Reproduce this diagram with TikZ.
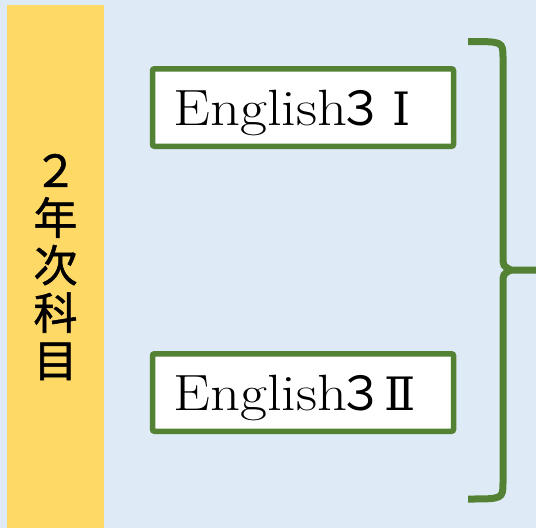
\documentclass[tikz,border=0pt]{standalone}
\usepackage{fontspec}
\newfontfamily\cjk{Noto Sans CJK JP}
\newfontfamily\cjkv{Noto Sans CJK JP}[FakeBold=1.2]
\newfontfamily\engfont{Latin Modern Roman}[FakeStretch=1.15]
\newfontfamily\romfont{DejaVu Serif}
\definecolor{bgblue}{HTML}{DEEAF6}
\definecolor{baryellow}{HTML}{FFD966}
\definecolor{boxgreen}{HTML}{548235}
\begin{document}
\begin{tikzpicture}[x=1pt,y=-1pt,
  coursebox/.style={draw=boxgreen, line width=5.5pt, fill=white, rounded corners=2pt,
    minimum width=301pt, minimum height=77.5pt, inner xsep=20.5pt, inner ysep=0pt,
    text width=259pt, align=left, text height=36pt, text depth=0pt,
    font=\engfont\fontsize{51}{60}\selectfont},
  bracepath/.style={draw=boxgreen, line width=7pt, line cap=butt, line join=miter}]
\useasboundingbox (0,0) rectangle (536,528);
\fill[bgblue] (0,0) rectangle (536,528);
\fill[baryellow] (7.3,5) rectangle (104,528);
\node[font=\cjkv\fontsize{44}{47.5}\selectfont, align=center, inner sep=0pt] (label) at (55.5,267)
  {２\\年\\次\\科\\目};
\node[coursebox] (e1) at (303,107.5) {English{\cjk\fontsize{47}{50}\selectfont\kern-10pt ３\kern-2pt}{\romfont\fontsize{46}{50}\selectfont\kern10pt Ⅰ}};
\node[coursebox] (e2) at (303,392.5) {English{\cjk\fontsize{47}{50}\selectfont\kern-10pt ３\kern-2pt}{\romfont\fontsize{46}{50}\selectfont\kern2pt Ⅱ}};
\coordinate (btop) at (468,41.5);
\coordinate (bbot) at (468,499);
\coordinate (btip) at (536,270);
\draw[bracepath] (btop) .. controls (503,41.5) .. (503,58) -- (503,256)
  .. controls (503,266) .. (511,270) -- (btip);
\draw[bracepath] (bbot) .. controls (503,499) .. (503,482) -- (503,284)
  .. controls (503,274) .. (511,270);
\end{tikzpicture}
\end{document}
